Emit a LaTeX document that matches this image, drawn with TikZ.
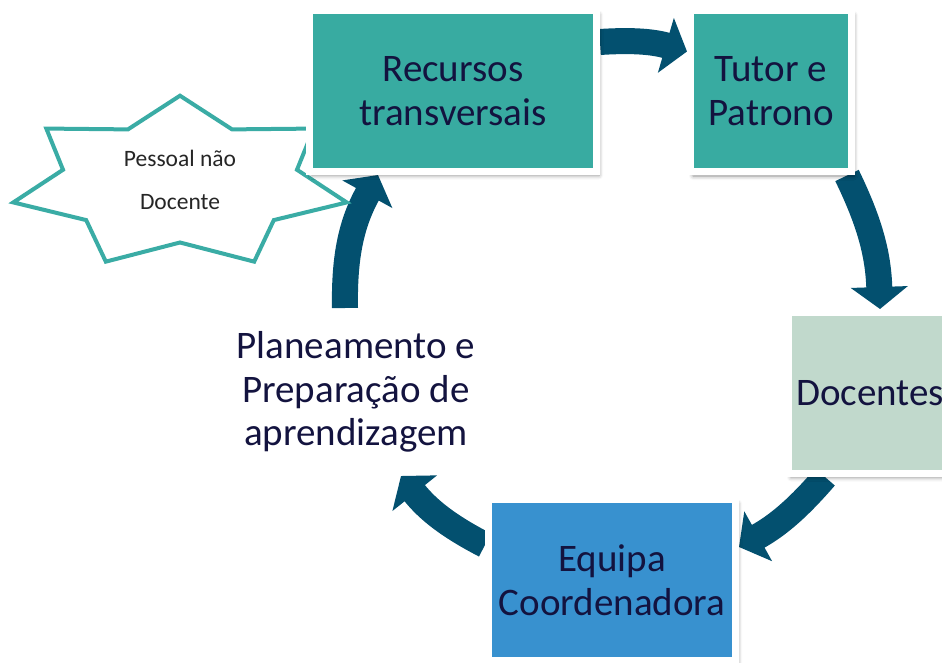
\documentclass[tikz,border=0pt]{standalone}
\usepackage{fontspec}
\setmainfont{Carlito}
\usetikzlibrary{arrows.meta,shadows.blur,backgrounds,positioning}

\definecolor{boxteal}{HTML}{38ABA1}
\definecolor{boxsage}{HTML}{C1D9CC}
\definecolor{boxblue}{HTML}{3891CF}
\definecolor{cycleblue}{HTML}{03506F}
\definecolor{navytext}{HTML}{13133F}
\definecolor{starteal}{HTML}{3AACA5}

\begin{document}
\begin{tikzpicture}[x=1pt,y=-1pt,
    box/.style={rectangle,draw=white,line width=7pt,minimum height=161pt,inner sep=2pt,
      text=navytext,font=\fontsize{39}{44}\selectfont,align=center,
      blur shadow={shadow xshift=2.5pt,shadow yshift=-4pt,shadow blur radius=4pt,shadow opacity=45}},
    cyc/.style={draw=cycleblue,line width=26pt,-{Triangle[width=56pt,length=22pt]}},
    starline/.style={draw=starteal,fill=white,line width=4pt,line join=miter}]
  \useasboundingbox (0,0) rectangle (942,663);

  % star behind the first box
  \draw[starline,shift={(180,183)}] (-90:171 and 87.3)
    \foreach \k [evaluate=\k as \rx using {isodd(\k)?120:171},
                 evaluate=\k as \ry using {isodd(\k)?59.5:87.3}] in {1,...,13} {
      -- ({-90+\k*360/14}:{\rx} and {\ry}) } -- cycle;
  \node (pessoal) at (180,180) [text=black!85,font=\fontsize{23.5}{43}\selectfont,align=center]
    {Pessoal não\\Docente};

  % the boxes
  \node[box,fill=boxteal,minimum width=287pt] (recursos) at (453,91) {Recursos\\transversais};
  \node[box,fill=boxteal,minimum width=161pt] (tutor) at (771,91.5) {Tutor e\\Patrono};
  \node[box,fill=boxsage,minimum width=163pt] (docentes) at (870,393) {Docentes};
  \node[box,fill=boxblue,minimum width=247pt] (equipa) at (612,580) {Equipa\\Coordenadora};
  \node (plan) at (356,392) [text=navytext,font=\fontsize{39}{43.5}\selectfont,align=center]
    {Planeamento e\\Preparação de\\aprendizagem};
  \coordinate (planin) at (401,476);
  \coordinate (planout) at (345,308);

  % the cycle
  \begin{scope}[on background layer]
    \draw[cyc] ([yshift=-35pt]recursos.north east) to[bend left=10] ([yshift=-44pt]tutor.north west);
    \draw[cyc] ([xshift=-8pt]tutor.south east) to[bend left=12] ([xshift=10pt]docentes.north);
    \draw[cyc] ([xshift=40pt]docentes.south west) to[bend left=10] ([yshift=33pt]equipa.east);
    \draw[cyc] ([yshift=35pt]equipa.west) to[bend left=12] (planin);
    \draw[cyc] (planout) to[bend left=15] ([xshift=72pt]recursos.south west);
  \end{scope}
\end{tikzpicture}
\end{document}
